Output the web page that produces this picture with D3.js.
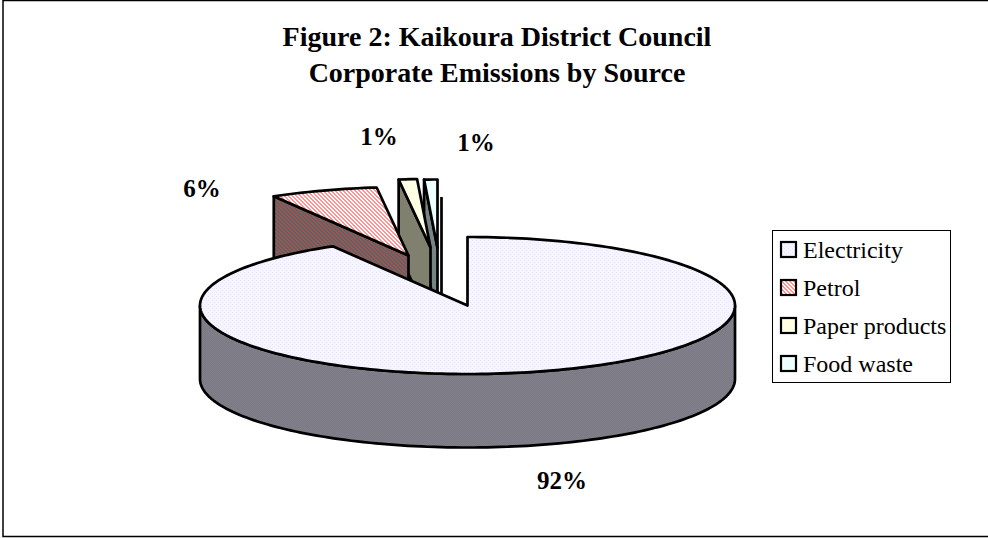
<!DOCTYPE html>
<html><head><meta charset="utf-8">
<script src="https://cdn.jsdelivr.net/npm/d3@7/dist/d3.min.js"></script>
<style>html,body{margin:0;padding:0;background:#fff}svg{display:block}text{font-family:"Liberation Serif",serif;fill:#000}</style>
</head><body><svg id="c" width="988" height="538"></svg>
<script>
const categories=["Electricity","Petrol","Paper products","Food waste"];
const shares=[91.6,6.5,1.1,0.8];
const percentLabels=["92%","6%","1%","1%"];
const titleLines=["Figure 2: Kaikoura District Council","Corporate Emissions by Source"];
const topFills=["url(#pE)","url(#pP)","#ffffe3","url(#pF)"];
const wallFills=["url(#wE)","url(#wP)","#80806f","#778484"];
const swatchFills=["url(#pE)","url(#pP)","#ffffe3","url(#pF)"];
const apexes=[[467.5,305.5],[408.5,255.5],[430.5,247.5],[437.5,248]];
const labelPos=[[562,489],[202,196.5],[379,145],[476,151]];

const svg=d3.select("#c");
const defs=svg.append("defs");
function checker(id,a,b,rows){
  const p=defs.append("pattern").attr("id",id).attr("width",rows.length).attr("height",rows.length).attr("patternUnits","userSpaceOnUse");
  p.append("rect").attr("width",rows.length).attr("height",rows.length).attr("fill",a);
  rows.forEach((r,y)=>[...r].forEach((c,x)=>{if(c==="1")p.append("rect").attr("x",x).attr("y",y).attr("width",1).attr("height",1).attr("fill",b).attr("shape-rendering","crispEdges");}));
}
const diag=["1100","0110","0011","1001"];
checker("pE","#f5f4ff","#e9e7ff",["1000","0000","0010","0000"]);
checker("pP","#ffffff","#ff9494",diag);
checker("pF","#e6ffff","#f4ffff",["10","01"]);
checker("wE","#7c7b85","#80808a",["10","01"]);
checker("wP","#626262","#9a5555",diag);

const rx=267.5,ry=68.5,depth=73.5;
svg.append("rect").attr("x",3).attr("y",0.5).attr("width",1000).attr("height",536).attr("fill","#fff").attr("stroke","#000").attr("stroke-width",1.5);

const pie=d3.pie().sort(null).value(d=>d)(shares);
const line=d3.line();
const stroke={stroke:"#000","stroke-width":2.7,"stroke-linejoin":"round"};
function rim(a,b,ax,ay){
  const n=Math.max(2,Math.ceil((b-a)*40));
  return d3.range(n+1).map(i=>{const t=a+(b-a)*i/n;return [ax+rx*Math.sin(t),ay-ry*Math.cos(t)];});
}
function styled(sel){Object.entries(stroke).forEach(([k,v])=>sel.attr(k,v));return sel;}
const g=svg.append("g");
styled(g.append("path").attr("d",line([[441.5,197],[441.5,293]])).attr("fill","none"));
[3,2,1].forEach(i=>{
  const s=pie[i],[ax,ay]=apexes[i];
  const o=rim(s.startAngle,s.startAngle,ax,ay)[0];
  styled(g.append("path").attr("d",line([o,[ax,ay],[ax,ay+depth],[o[0],o[1]+depth]])+"Z").attr("fill",wallFills[i]));
  styled(g.append("path").attr("d",line([[ax,ay],...rim(s.startAngle,s.endAngle,ax,ay)])+"Z").attr("fill",topFills[i]));
});
const e=pie[0],[ex,ey]=apexes[0];
const front=rim(Math.PI/2,Math.PI*1.5,ex,ey);
styled(g.append("path").attr("d",line([...front,...front.slice().reverse().map(p=>[p[0],p[1]+depth])])+"Z").attr("fill",wallFills[0]));
styled(g.append("path").attr("d",line([[ex,ey],...rim(e.startAngle,e.endAngle,ex,ey)])+"Z").attr("fill",topFills[0]));

const title=svg.append("text").attr("text-anchor","middle").attr("font-weight","bold").attr("font-size",28);
titleLines.forEach((t,i)=>title.append("tspan").attr("x",497).attr("y",46+i*35.5).text(t));
percentLabels.forEach((t,i)=>svg.append("text").attr("x",labelPos[i][0]).attr("y",labelPos[i][1]).attr("text-anchor","middle").attr("font-weight","bold").attr("font-size",25).text(t));

const lg=svg.append("g");
lg.append("rect").attr("x",772.5).attr("y",230.5).attr("width",178).attr("height",152).attr("fill","#fff").attr("stroke","#000").attr("stroke-width",1);
const ly=d3.scalePoint().domain(categories).range([249.5,363.5]);
categories.forEach((c,i)=>{
  lg.append("rect").attr("x",781).attr("y",ly(c)-7.5).attr("width",15).attr("height",15).attr("fill",swatchFills[i]).attr("stroke","#000").attr("stroke-width",2.2);
  lg.append("text").attr("x",803).attr("y",ly(c)+8.5).attr("font-size",24).text(c);
});
</script></body></html>
